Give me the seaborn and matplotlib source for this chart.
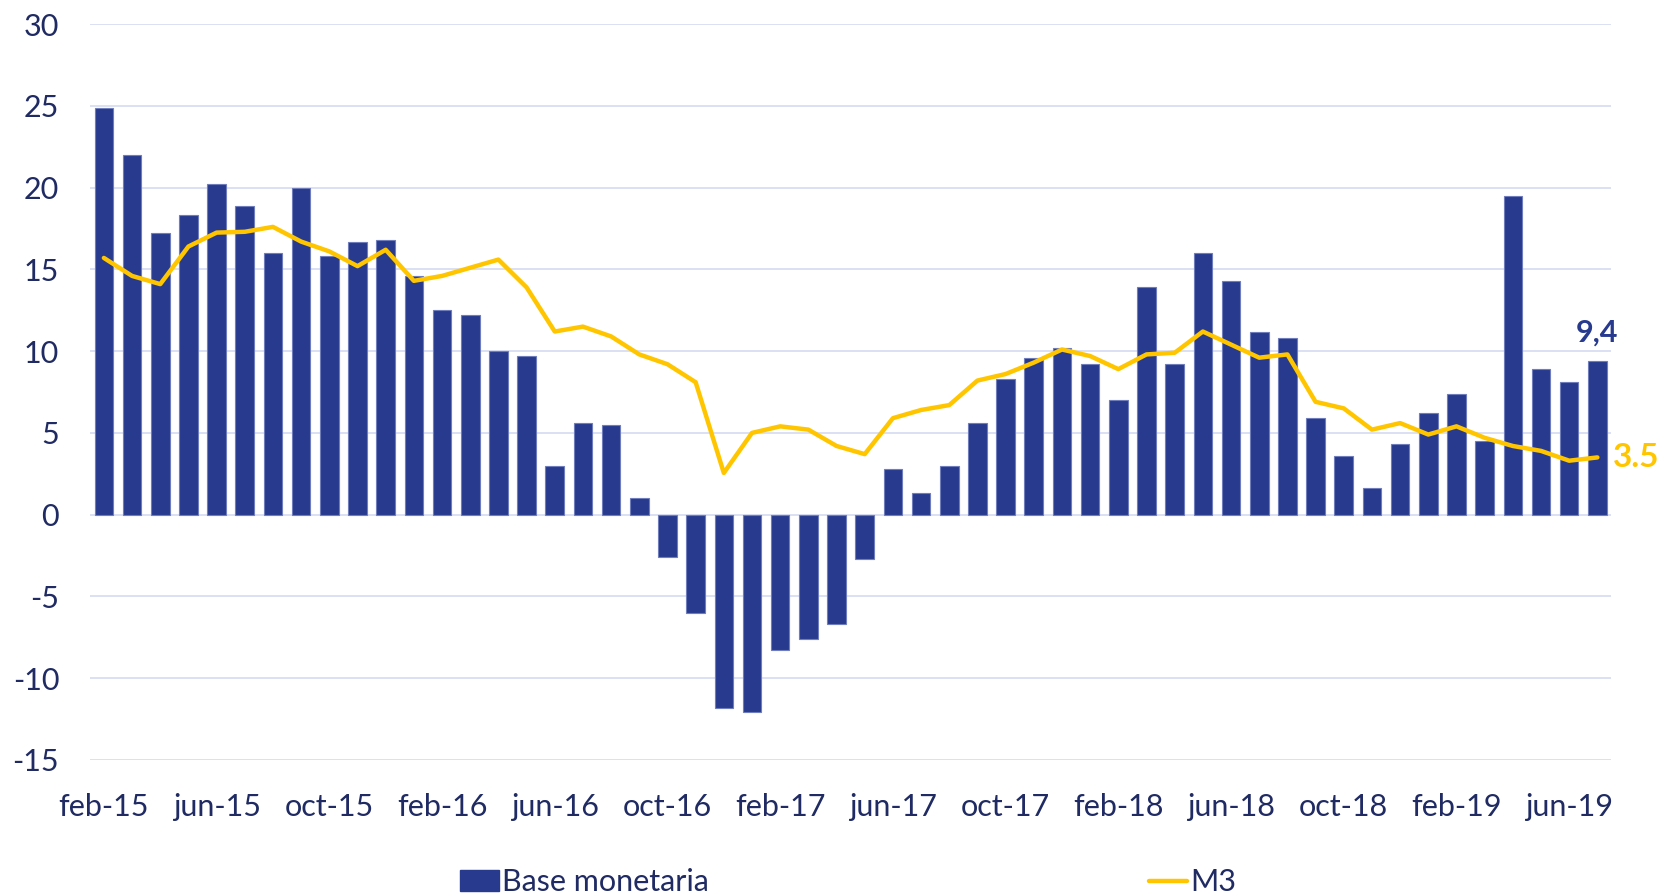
import numpy as np
import pandas as pd
import matplotlib
matplotlib.use("Agg")
import matplotlib.pyplot as plt
import seaborn as sns
from matplotlib.patches import Patch
from matplotlib.lines import Line2D

# monthly data feb-15 .. jul-19 (yoy %)
months = pd.date_range("2015-02-01", "2019-07-01", freq="MS")
month_names = ["ene", "feb", "mar", "abr", "may", "jun",
               "jul", "ago", "sep", "oct", "nov", "dic"]
month_labels = [f"{month_names[d.month - 1]}-{str(d.year)[2:]}" for d in months]

base_monetaria = [
    24.9, 22.0, 17.2, 18.3, 20.2, 18.9, 16.0, 20.0, 15.8, 16.7, 16.8,
    14.6, 12.5, 12.2, 10.0, 9.7, 3.0, 5.6, 5.5, 1.0, -2.6, -6.0, -11.8,
    -12.1, -8.3, -7.6, -6.7, -2.7, 2.8, 1.3, 3.0, 5.6, 8.3, 9.6, 10.2,
    9.2, 7.0, 13.9, 9.2, 16.0, 14.3, 11.2, 10.8, 5.9, 3.6, 1.6, 4.3,
    6.2, 7.4, 4.5, 19.5, 8.9, 8.1, 9.4,
]
m3 = [
    15.7, 14.6, 14.1, 16.4, 17.25, 17.3, 17.6, 16.7, 16.1, 15.2, 16.2,
    14.3, 14.6, 15.1, 15.6, 13.9, 11.2, 11.5, 10.9, 9.8, 9.2, 8.1, 2.55,
    5.0, 5.4, 5.2, 4.2, 3.7, 5.9, 6.4, 6.7, 8.2, 8.6, 9.3, 10.1,
    9.7, 8.9, 9.8, 9.9, 11.2, 10.4, 9.6, 9.8, 6.9, 6.5, 5.2, 5.6,
    4.9, 5.4, 4.7, 4.2, 3.9, 3.3, 3.5,
]

df = pd.DataFrame({"mes": month_labels, "Base monetaria": base_monetaria, "M3": m3})
df["pos"] = np.arange(len(df))

navy = "#273A8E"
gold = "#FFC600"
text_col = "#1F2B62"
grid_col = "#D9DDF2"

sns.set_theme(style="white")
plt.rcParams["font.family"] = ["Lato", "DejaVu Sans"]
plt.rcParams["axes.unicode_minus"] = False

fig = plt.figure(figsize=(16.63, 8.94), dpi=100)
ax = fig.add_axes([0.054, 0.150, 0.915, 0.823])

sns.barplot(data=df, x="mes", y="Base monetaria", color=navy, width=0.66,
            saturation=1, edgecolor="#6F7DBD", linewidth=0.8, ax=ax, zorder=2)
sns.lineplot(data=df, x="pos", y="M3", color=gold, linewidth=3.2, ax=ax, zorder=3)

ax.set_ylim(-15, 30)
ax.set_xlim(-0.5, len(df) - 0.5)
ax.set_yticks(range(-15, 31, 5))
ax.set_yticklabels([str(v) for v in range(-15, 31, 5)])
tick_pos = list(range(0, len(df), 4))
ax.set_xticks(tick_pos)
ax.set_xticklabels([month_labels[i] for i in tick_pos])
ax.set_xlabel("")
ax.set_ylabel("")

ax.grid(axis="y", color=grid_col, linewidth=1.3, zorder=0)
ax.set_axisbelow(True)
for s in ax.spines.values():
    s.set_visible(False)
ax.tick_params(axis="y", length=0, pad=22, labelsize=22, labelcolor=text_col)
ax.tick_params(axis="x", length=0, pad=24, labelsize=22, labelcolor=text_col)

# end labels
ax.annotate("9,4", xy=(df["pos"].iloc[-1], base_monetaria[-1]), xytext=(0, 10),
            textcoords="offset points", ha="center", va="bottom",
            fontsize=22, fontweight="bold", color=navy)
ax.annotate("3.5", xy=(df["pos"].iloc[-1], m3[-1]), xytext=(11, 0),
            textcoords="offset points", ha="left", va="center",
            fontsize=24, fontweight="bold", color=gold, annotation_clip=False)

handles = [Patch(facecolor=navy, edgecolor=navy),
           Line2D([0], [0], color=gold, linewidth=3.2)]
fig.legend(handles, ["Base monetaria", "M3"], loc="center", ncol=2,
           bbox_to_anchor=(0.510, 0.013), frameon=False, fontsize=22,
           labelcolor=text_col, columnspacing=14.4, handlelength=1.25,
           handletextpad=0.1)

fig.savefig("out.png", dpi=100)
